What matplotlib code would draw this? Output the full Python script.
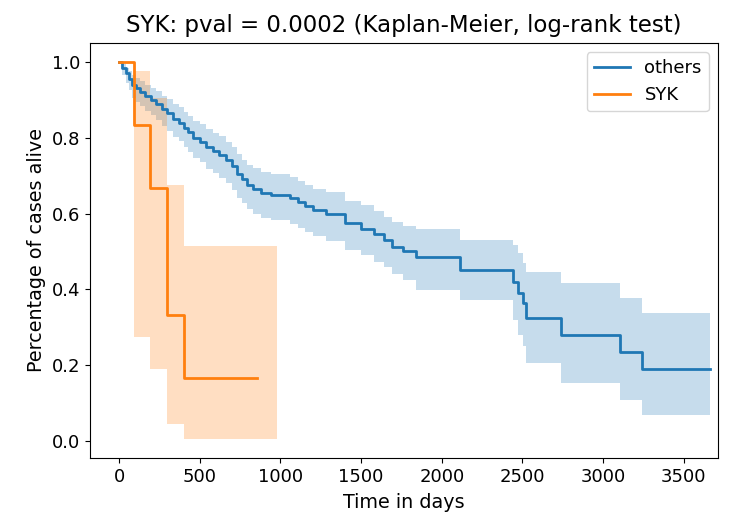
import matplotlib.pyplot as plt

# survival curve for "others" (step times in days, survival after the step)
others_t = [0, 20, 40, 60, 80, 105, 130, 160, 195, 230, 265, 300, 335, 370, 400,
            430, 460, 500, 540, 580, 620, 660, 700, 730, 760, 790, 830, 880, 940,
            1060, 1110, 1150, 1200, 1280, 1400, 1500, 1580, 1640, 1690, 1760, 1840,
            2110, 2440, 2475, 2505, 2520, 2740, 3105, 3240, 3662]
others_s = [1.0, 0.985, 0.97, 0.955, 0.94, 0.93, 0.92, 0.91, 0.90, 0.89, 0.875, 0.865,
            0.85, 0.84, 0.825, 0.815, 0.80, 0.79, 0.775, 0.765, 0.755, 0.74, 0.725,
            0.705, 0.69, 0.675, 0.665, 0.655, 0.65, 0.64, 0.63, 0.62, 0.61, 0.60,
            0.575, 0.56, 0.545, 0.53, 0.512, 0.50, 0.486, 0.451, 0.42, 0.39, 0.365,
            0.325, 0.28, 0.235, 0.19, 0.19]
others_up = [1.0, 0.995, 0.985, 0.975, 0.965, 0.957, 0.949, 0.94, 0.932, 0.923, 0.911,
             0.902, 0.889, 0.88, 0.867, 0.857, 0.845, 0.835, 0.822, 0.813, 0.804, 0.79,
             0.776, 0.757, 0.742, 0.728, 0.72, 0.71, 0.704, 0.696, 0.686, 0.676, 0.666,
             0.656, 0.634, 0.622, 0.607, 0.592, 0.577, 0.567, 0.559, 0.53, 0.517, 0.496,
             0.47, 0.446, 0.417, 0.377, 0.338, 0.338]
others_lo = [1.0, 0.965, 0.945, 0.927, 0.906, 0.894, 0.883, 0.871, 0.86, 0.848, 0.83,
             0.819, 0.803, 0.792, 0.775, 0.763, 0.746, 0.735, 0.718, 0.706, 0.695, 0.68,
             0.663, 0.642, 0.627, 0.612, 0.6, 0.589, 0.583, 0.573, 0.561, 0.551,
             0.541, 0.528, 0.505, 0.49, 0.473, 0.458, 0.44, 0.425, 0.398, 0.372, 0.319,
             0.28, 0.25, 0.206, 0.153, 0.108, 0.069, 0.069]

# survival curve for SYK
syk_t = [0, 91, 192, 299, 401, 853]
syk_s = [1.0, 0.833, 0.667, 0.333, 0.167, 0.167]
syk_ci_t = [0, 91, 192, 299, 401, 977]
syk_up = [1.0, 0.976, 0.906, 0.675, 0.514, 0.514]
syk_lo = [1.0, 0.273, 0.19, 0.044, 0.004, 0.004]

plt.rcParams['font.family'] = ['DejaVu Sans']
plt.rcParams['font.size'] = 13

fig = plt.figure(figsize=(7.3, 5.16), dpi=100)
ax = fig.add_axes([0.1233, 0.1124, 0.8603, 0.8043])

ax.fill_between(others_t, others_lo, others_up, step='post', color='C0', alpha=0.25, linewidth=0)
ax.fill_between(syk_ci_t, syk_lo, syk_up, step='post', color='C1', alpha=0.25, linewidth=0)
ax.step(others_t, others_s, where='post', color='C0', linewidth=2, label='others')
ax.step(syk_t, syk_s, where='post', color='C1', linewidth=2, label='SYK')

ax.set_xlim(-180, 3712)
ax.set_ylim(-0.045, 1.05)
ax.set_xticks([0, 500, 1000, 1500, 2000, 2500, 3000, 3500])
ax.set_yticks([0.0, 0.2, 0.4, 0.6, 0.8, 1.0])
ax.set_title('SYK: pval = 0.0002 (Kaplan-Meier, log-rank test)', fontsize=16.5, pad=8)
ax.set_xlabel('Time in days', fontsize=13.8, labelpad=5)
ax.set_ylabel('Percentage of cases alive', fontsize=13.8)
ax.legend(loc='upper right', fontsize=13)

fig.savefig('out.png', dpi=100)
